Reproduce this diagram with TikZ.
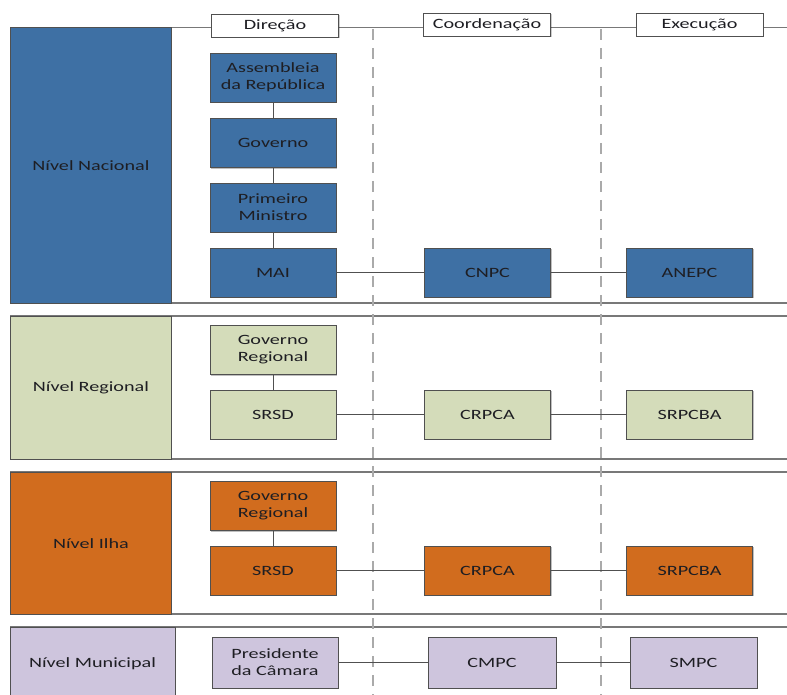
\documentclass[tikz,border=0pt]{standalone}
\usepackage{fontspec}
\newfontfamily\lblfont[FakeStretch=1.42]{Carlito}
\usetikzlibrary{shadows}
\definecolor{cblue}{RGB}{62,112,164}
\definecolor{cgreen}{RGB}{212,220,186}
\definecolor{corange}{RGB}{209,108,30}
\definecolor{clav}{RGB}{206,197,221}
\definecolor{bord}{RGB}{80,80,80}
\definecolor{secline}{RGB}{120,120,120}
\definecolor{dashc}{RGB}{170,170,170}
\definecolor{txt}{RGB}{30,30,35}
\begin{document}
\begin{tikzpicture}[x=1pt,y=-1pt,
  lbl/.style={font=\lblfont\fontsize{14.2}{17}\selectfont, text=txt, align=center},
  box/.style={lbl, draw=bord, line width=0.9pt, minimum width=126pt, minimum height=49pt, inner sep=1pt,
     drop shadow={shadow xshift=1.2pt, shadow yshift=-1.2pt, opacity=0.25, fill=black}},
  hdr/.style={lbl, draw=bord, line width=0.8pt, fill=white, minimum width=127pt, minimum height=23pt, inner sep=1pt,
     drop shadow={shadow xshift=1pt, shadow yshift=-1pt, opacity=0.2, fill=black}},
  lvl/.style={lbl, draw=bord, line width=0.9pt, anchor=north west, inner sep=0pt},
  sec/.style={draw=secline, line width=1.1pt},
  conn/.style={draw=bord, line width=0.8pt},
  dsh/.style={draw=dashc, line width=1.5pt, dash pattern=on 11pt off 8pt}
]
\useasboundingbox (0,0) rectangle (787,695);
\begin{scope}
\clip (0,0) rectangle (787,695);
% section lines
\draw[sec] (10,27.5) -- (787,27.5);
\draw[sec] (10,303) -- (787,303);
\draw[sec] (10,316) -- (787,316);
\draw[sec] (10,459) -- (787,459);
\draw[sec] (10,472) -- (787,472);
\draw[sec] (10,614) -- (787,614);
\draw[sec] (10,627) -- (787,627);
% level boxes
\node[lvl, fill=cblue, minimum width=161pt, minimum height=275.5pt] (nac) at (10,27.5) {};
\node[lbl] at (nac.center) {Nível Nacional};
\node[lvl, fill=cgreen, minimum width=161pt, minimum height=143pt] (reg) at (10,316) {};
\node[lbl] at (reg.center) {Nível Regional};
\node[lvl, fill=corange, minimum width=161pt, minimum height=142pt] (ilha) at (10,472) {};
\node[lbl] at (ilha.center) {Nível Ilha};
\node[lvl, fill=clav, minimum width=165pt, minimum height=80pt] (mun) at (10,627) {};
\node[lbl] at (10+82.5,664) {Nível Municipal};
% dashed column lines
\coordinate (d1t) at (373,29);
\coordinate (d1b) at (373,695);
\coordinate (d2t) at (601,29);
\coordinate (d2b) at (601,695);
\draw[dsh] (d1t) -- (d1b);
\draw[dsh] (d2t) -- (d2b);
\end{scope}
% headers
\node[hdr] (hdir) at (275,26) {Direção};
\node[hdr] (hcoord) at (487,25) {Coordenação};
\node[hdr] (hexec) at (699.5,25) {Execução};
% Nacional
\node[box, fill=cblue] (ar) at (273,77.5) {Assembleia\\da República};
\node[box, fill=cblue] (gov) at (273,143) {Governo};
\node[box, fill=cblue] (pm) at (273,207.5) {Primeiro\\Ministro};
\node[box, fill=cblue] (mai) at (273,272.5) {MAI};
\node[box, fill=cblue] (cnpc) at (487.5,272.5) {CNPC};
\node[box, fill=cblue] (anepc) at (689.5,272.5) {ANEPC};
\draw[conn] (ar) -- (gov);
\draw[conn] (gov) -- (pm);
\draw[conn] (pm) -- (mai);
\draw[conn] (mai) -- (cnpc);
\draw[conn] (cnpc) -- (anepc);
% Regional
\node[box, fill=cgreen] (gr1) at (273,350) {Governo\\Regional};
\node[box, fill=cgreen] (srsd1) at (273,414.5) {SRSD};
\node[box, fill=cgreen] (crpca1) at (487.5,414.5) {CRPCA};
\node[box, fill=cgreen] (srpcba1) at (689.5,414.5) {SRPCBA};
\draw[conn] (gr1) -- (srsd1);
\draw[conn] (srsd1) -- (crpca1);
\draw[conn] (crpca1) -- (srpcba1);
% Ilha
\node[box, fill=corange] (gr2) at (273,506) {Governo\\Regional};
\node[box, fill=corange] (srsd2) at (273,570.5) {SRSD};
\node[box, fill=corange] (crpca2) at (487.5,570.5) {CRPCA};
\node[box, fill=corange] (srpcba2) at (689.5,570.5) {SRPCBA};
\draw[conn] (gr2) -- (srsd2);
\draw[conn] (srsd2) -- (crpca2);
\draw[conn] (crpca2) -- (srpcba2);
% Municipal
\node[box, fill=clav, minimum height=51pt] (pres) at (275,662.5) {Presidente\\da Câmara};
\node[box, fill=clav, minimum height=51pt, minimum width=128pt] (cmpc) at (492,662.5) {CMPC};
\node[box, fill=clav, minimum height=51pt, minimum width=127pt] (smpc) at (693.5,662.5) {SMPC};
\draw[conn] (pres) -- (cmpc);
\draw[conn] (cmpc) -- (smpc);
\end{tikzpicture}
\end{document}
